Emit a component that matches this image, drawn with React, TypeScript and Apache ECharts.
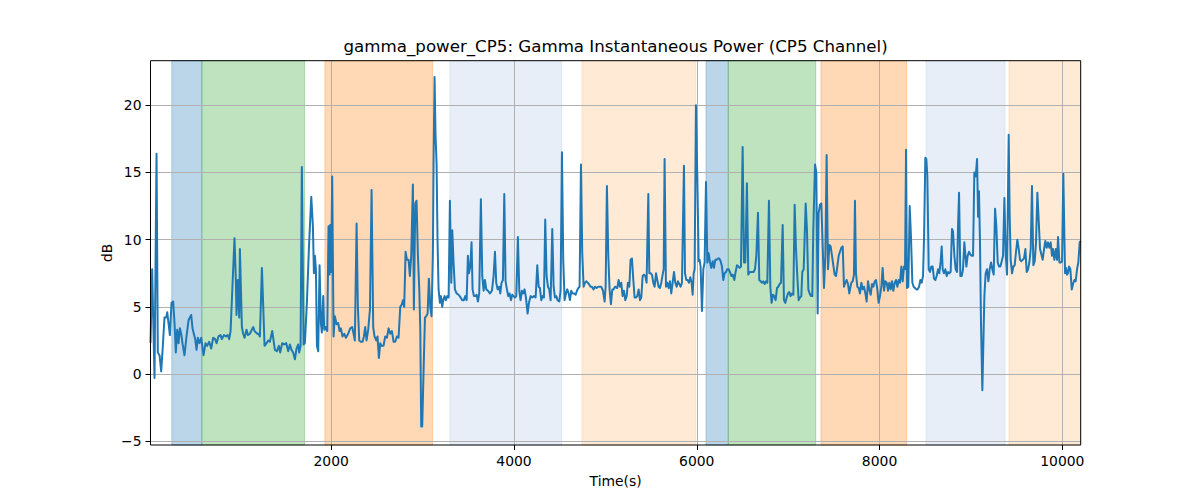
import React, { useEffect, useRef } from "react";
import * as echarts from "echarts";

const TITLE = "gamma_power_CP5: Gamma Instantaneous Power (CP5 Channel)";
const X_LABEL = "Time(s)";
const Y_LABEL = "dB";

const xTicks = [2000, 4000, 6000, 8000, 10000];
const yTicks = [-5, 0, 5, 10, 15, 20];

const times = [
  23, 41, 67, 89, 103, 122, 140, 158, 176, 195, 206, 220, 235, 253, 271, 286, 300, 315, 330, 344, 359, 373, 395, 417, 439, 468, 483, 497, 512, 527, 541, 559, 578, 603, 625, 643, 665, 687, 709, 731, 746, 767, 789, 804, 826, 848, 870, 884, 899, 942, 957, 964, 979, 994, 1001, 1023, 1037, 1052, 1074, 1088, 1110, 1132, 1147, 1161, 1191, 1205, 1220, 1242, 1271,
  1293, 1311, 1329, 1355, 1384, 1406, 1428, 1442, 1464, 1486, 1508, 1530, 1548, 1566, 1584, 1603, 1621, 1639, 1650, 1665, 1679, 1698, 1712, 1734, 1756, 1782, 1800, 1811, 1822, 1833, 1844, 1858, 1873, 1887, 1898, 1913, 1924, 1938, 1957, 1971, 1982, 1989, 2000, 2011, 2026, 2040, 2059, 2077, 2092, 2106, 2124, 2143, 2161, 2186, 2208, 2230, 2245, 2259, 2278, 2292, 2307, 2325, 2343, 2358, 2372, 2387, 2405, 2424, 2442, 2460, 2474, 2493, 2507, 2522, 2537, 2551,
  2573, 2591, 2610, 2628, 2646, 2664, 2683, 2701, 2719, 2737, 2756, 2774, 2785, 2799, 2814, 2829, 2847, 2861, 2876, 2894, 2905, 2920, 2934, 2949, 2964, 2975, 2985, 2996, 3011, 3026, 3040, 3055, 3069, 3084, 3098, 3113, 3120, 3131, 3142, 3153, 3164, 3175, 3190, 3201, 3215, 3226, 3241, 3255, 3270, 3285, 3299, 3314, 3325, 3339, 3354, 3372, 3394, 3416, 3434, 3452, 3467, 3482, 3496, 3507, 3522, 3536, 3547, 3562, 3576, 3591, 3606, 3620, 3638, 3653, 3668, 3682, 3697, 3715, 3737, 3759, 3777, 3792, 3806, 3821, 3839,
  3850, 3864, 3879, 3894, 3908, 3923, 3937, 3952, 3967, 3981, 3996, 4010, 4025, 4043, 4058, 4072, 4087, 4102, 4116, 4131, 4149, 4164, 4182, 4200, 4218, 4237, 4255, 4270, 4284, 4299, 4313, 4328, 4342, 4357, 4372, 4386, 4401, 4419, 4434, 4448, 4463, 4477, 4496, 4510, 4525, 4539, 4554, 4569, 4583, 4598, 4612, 4627, 4641, 4660, 4675, 4689, 4704, 4718, 4733, 4747, 4762, 4777, 4791, 4806, 4820, 4838, 4853, 4871, 4886, 4904, 4922, 4941, 4955, 4974, 4992, 5003, 5017, 5032, 5046, 5061, 5076, 5090, 5105,
  5130, 5145, 5160, 5174, 5189, 5203, 5218, 5233, 5247, 5262, 5276, 5291, 5306, 5320, 5335, 5349, 5364, 5379, 5393, 5408, 5422, 5437, 5451, 5470, 5481, 5495, 5510, 5524, 5539, 5554, 5568, 5583, 5597, 5612, 5627, 5638, 5648, 5663, 5678, 5692, 5707, 5721, 5736, 5751, 5765, 5780, 5794, 5809, 5824, 5838, 5860, 5871, 5886, 5900, 5915, 5929, 5944, 5955, 5966, 5977, 5991, 6006, 6021, 6031, 6042, 6057, 6072, 6086, 6101, 6116, 6130, 6145, 6159, 6174, 6188, 6203, 6218, 6232, 6247, 6261, 6276, 6290, 6305, 6320, 6334, 6349, 6363, 6378, 6393,
  6411, 6425, 6440, 6455, 6469, 6484, 6502, 6517, 6531, 6549, 6564, 6579, 6593, 6608, 6622, 6637, 6652, 6670, 6684, 6699, 6714, 6728, 6743, 6757, 6772, 6790, 6805, 6819, 6834, 6849, 6863, 6878, 6892, 6907, 6922, 6940, 6954, 6969, 6984, 6998, 7013, 7027, 7042, 7057, 7071, 7086, 7100, 7115, 7130, 7144, 7155, 7170, 7192, 7206, 7221, 7235, 7250, 7264, 7275, 7294, 7308, 7323, 7334, 7348, 7363, 7378, 7392, 7407, 7421, 7436, 7451, 7465, 7480, 7494, 7509, 7524, 7538, 7553, 7567, 7582, 7597, 7611, 7626, 7640, 7655, 7669,
  7691, 7706, 7720, 7731, 7742, 7757, 7772, 7786, 7801, 7815, 7830, 7845, 7859, 7874, 7888, 7903, 7917, 7932, 7947, 7961, 7976, 7990, 8005, 8020, 8034, 8049, 8063, 8078, 8093, 8107, 8122, 8136, 8151, 8166, 8180, 8195, 8209, 8224, 8239, 8253, 8268, 8279, 8290, 8300, 8315, 8330, 8344, 8359, 8373, 8388, 8403, 8417, 8432, 8447, 8461, 8476, 8487, 8501, 8512, 8523, 8538, 8552, 8567, 8581, 8596, 8611, 8625, 8640, 8654, 8669, 8680, 8691, 8705, 8720, 8735, 8749, 8764, 8778, 8793, 8804, 8819, 8833, 8848, 8859, 8870, 8884, 8899, 8913, 8928,
  8950, 8964, 8979, 8994, 9008, 9023, 9037, 9052, 9067, 9078, 9088, 9099, 9110, 9125, 9136, 9147, 9161, 9176, 9191, 9205, 9220, 9234, 9249, 9264, 9278, 9293, 9307, 9322, 9337, 9351, 9366, 9380, 9395, 9402, 9413, 9424, 9435, 9450, 9464, 9479, 9493, 9508, 9523, 9537, 9552, 9566, 9581, 9596, 9610, 9625, 9639, 9654, 9668, 9683, 9698, 9712, 9727, 9741, 9756, 9771, 9785, 9800, 9814, 9829, 9843, 9858, 9873, 9887, 9898, 9913, 9928, 9942, 9953, 9968, 9982, 9997, 10011, 10022, 10030, 10041, 10051, 10062, 10073, 10088, 10103, 10117, 10132, 10146, 10161, 10175, 10190, 10200,
];

const powers = [
  2.3, 7.8, -0.3, 16.4, 1.6, 1.4, 0.2, 2.1, 4.2, 4.2, 4.6, 3.8, 2.9, 5.3, 5.4, 3.8, 1.6, 3.3, 2.3, 3.4, 3.0, 2.3, 1.4, 2.8, 4.0, 4.4, 3.4, 3.0, 2.6, 1.8, 2.7, 2.3, 2.7, 1.4, 2.3, 2.1, 2.4, 1.9, 2.7, 2.6, 2.3, 2.8, 2.9, 2.6, 2.9, 2.8, 2.9, 2.6, 3.2, 10.1, 7.0, 4.4, 7.0, 4.2, 9.3, 3.5, 3.0, 2.7, 3.3, 2.9, 3.0, 3.3, 3.5, 3.2, 3.0, 3.0, 2.8, 7.9, 2.1,
  2.3, 2.5, 2.4, 3.2, 1.8, 1.7, 2.1, 1.6, 2.3, 2.2, 2.3, 1.7, 2.2, 1.8, 1.6, 1.1, 1.9, 2.2, 1.6, 2.1, 15.4, 2.2, 2.3, 5.3, 9.3, 13.2, 11.0, 7.5, 8.8, 7.8, 2.1, 1.7, 8.1, 3.8, 3.1, 5.8, 3.3, 3.5, 3.2, 11.0, 7.4, 11.1, 7.6, 14.7, 2.8, 4.3, 3.7, 3.8, 3.2, 3.4, 2.8, 3.0, 2.7, 3.0, 3.4, 3.5, 3.0, 2.5, 11.2, 5.0, 2.5, 2.4, 2.4, 2.8, 3.5, 2.5, 3.3, 4.8, 13.7, 3.5, 2.8, 2.5, 2.8, 1.2, 2.3, 2.1,
  2.1, 2.8, 2.7, 3.4, 3.0, 3.2, 2.4, 2.4, 2.8, 2.7, 5.0, 5.2, 5.5, 5.0, 9.1, 8.5, 8.5, 7.3, 8.8, 14.1, 4.8, 12.7, 12.9, 8.8, 6.3, 3.3, -3.9, -3.9, 0.3, 4.2, 4.3, 4.5, 7.1, 5.0, 4.3, 9.0, 15.6, 22.1, 17.7, 15.7, 9.8, 6.3, 5.3, 5.8, 5.0, 5.5, 5.8, 5.5, 5.8, 5.7, 12.9, 6.8, 10.7, 8.3, 6.3, 6.0, 5.9, 5.7, 5.5, 5.5, 5.8, 5.5, 8.8, 7.5, 8.0, 9.8, 6.3, 5.8, 5.8, 5.9, 5.4, 6.0, 13.0, 7.3, 6.2, 7.0, 6.3, 6.2, 6.0, 6.2, 7.3, 9.1, 6.8, 6.3, 6.5,
  6.0, 6.8, 7.0, 13.4, 6.9, 6.3, 5.8, 6.0, 5.5, 5.9, 5.8, 5.7, 5.8, 10.2, 6.2, 5.5, 6.2, 6.0, 6.3, 5.7, 4.5, 5.3, 5.8, 5.7, 5.8, 5.7, 8.1, 6.5, 6.4, 5.5, 5.8, 5.7, 11.5, 7.3, 6.5, 6.3, 5.5, 10.8, 6.5, 5.7, 5.8, 5.5, 5.4, 6.2, 16.5, 8.5, 5.5, 6.0, 6.3, 6.0, 5.5, 6.2, 6.0, 6.0, 5.9, 6.2, 6.4, 6.5, 15.6, 9.0, 6.5, 6.8, 6.9, 6.8, 6.7, 6.5, 6.5, 6.3, 6.5, 6.4, 6.5, 6.5, 6.5, 6.2, 5.4, 6.5, 14.0, 8.8, 6.3, 5.2, 6.3, 6.3, 6.5,
  6.4, 7.0, 6.5, 6.8, 5.8, 6.2, 5.5, 5.8, 6.8, 6.5, 8.5, 8.6, 7.0, 5.7, 5.7, 5.8, 6.3, 5.5, 5.7, 7.3, 7.4, 7.3, 6.8, 13.4, 7.5, 7.5, 7.4, 6.8, 6.5, 7.5, 7.0, 6.5, 6.4, 6.8, 7.4, 7.8, 16.0, 6.5, 6.8, 6.4, 6.9, 6.0, 6.8, 7.6, 6.8, 6.5, 6.9, 6.7, 6.5, 6.8, 15.5, 7.5, 7.0, 7.0, 6.8, 7.2, 6.8, 5.9, 7.5, 7.8, 20.0, 14.7, 8.4, 8.5, 8.0, 4.7, 7.8, 8.3, 14.3, 8.3, 9.0, 8.3, 7.9, 8.4, 7.9, 8.5, 8.5, 8.6, 8.6, 8.4, 8.0, 7.0, 7.5, 7.6, 7.8, 7.8, 7.6, 7.3, 7.4,
  7.0, 7.6, 8.1, 8.0, 7.9, 8.0, 16.9, 8.3, 8.3, 14.2, 7.4, 7.6, 7.6, 7.6, 7.6, 7.8, 8.8, 12.0, 7.0, 6.9, 6.8, 6.9, 6.7, 6.9, 6.8, 12.9, 6.5, 5.3, 5.9, 5.8, 5.5, 6.4, 6.5, 6.7, 6.8, 11.1, 5.5, 5.3, 5.7, 6.0, 6.1, 5.8, 6.0, 5.9, 12.6, 9.3, 7.3, 5.5, 5.7, 5.8, 7.6, 7.8, 12.7, 10.7, 6.3, 6.0, 5.8, 5.8, 10.7, 15.6, 15.0, 4.5, 12.0, 12.6, 12.7, 9.5, 6.4, 8.8, 16.3, 7.8, 9.6, 9.5, 8.8, 8.1, 7.4, 7.3, 8.0, 8.8, 9.1, 9.4, 9.5, 6.5, 6.8, 7.0, 6.7, 6.0,
  6.8, 6.9, 7.4, 12.9, 7.5, 6.5, 6.4, 6.0, 6.8, 6.3, 6.5, 6.0, 5.4, 6.9, 6.3, 5.9, 6.7, 6.5, 6.9, 7.0, 6.3, 5.3, 5.8, 6.5, 7.9, 6.2, 6.9, 6.8, 6.2, 6.8, 6.3, 6.9, 6.2, 6.8, 7.0, 6.5, 7.0, 6.8, 8.0, 6.9, 8.0, 7.8, 16.7, 6.4, 6.5, 12.5, 10.2, 6.8, 6.5, 6.4, 6.3, 6.3, 6.5, 7.0, 6.8, 7.3, 10.2, 16.1, 16.0, 14.7, 7.8, 7.6, 8.0, 8.0, 7.1, 7.0, 7.3, 7.8, 7.5, 8.4, 9.5, 7.8, 7.5, 7.8, 7.3, 7.6, 7.5, 7.6, 10.8, 10.6, 8.8, 7.8, 7.6, 11.0, 13.5, 7.3, 7.3, 7.8, 9.8,
  8.0, 8.8, 9.1, 8.9, 8.8, 8.8, 15.0, 14.7, 16.0, 11.7, 13.6, 9.8, 3.8, -1.2, 2.3, 5.8, 7.5, 7.8, 6.9, 7.8, 8.3, 7.8, 7.4, 12.3, 11.0, 8.3, 8.0, 8.0, 8.4, 8.8, 13.1, 8.9, 7.4, 7.4, 17.8, 11.7, 8.5, 7.5, 8.0, 8.1, 9.1, 10.0, 9.3, 8.5, 8.4, 8.5, 8.6, 9.3, 7.6, 7.8, 8.3, 9.3, 14.0, 8.1, 8.4, 9.8, 13.5, 11.5, 9.3, 8.9, 8.5, 9.3, 9.9, 9.4, 9.8, 9.4, 9.8, 8.8, 9.3, 8.5, 9.3, 8.5, 10.2, 8.3, 8.3, 8.4, 14.9, 10.4, 7.5, 7.9, 7.4, 7.5, 8.0, 7.8, 6.3, 6.7, 7.0, 6.9, 7.8, 8.3, 9.8, 9.9,
];

// shaded intervals [start, end] and their colour key
const spanStarts = [256, 585, 1931, 3299, 4743, 6101, 6345, 7359, 8508, 9416];
const spanEnds = [585, 1709, 3110, 4522, 5991, 6345, 7301, 8297, 9373, 10201];
const spanKinds = ["blue", "green", "orange", "lightblue", "lightorange", "blue", "green", "orange", "lightblue", "lightorange"];

const spanColors: Record<string, string> = {
  blue: "rgba(31,119,180,0.3)",
  green: "rgba(44,160,44,0.3)",
  orange: "rgba(255,127,14,0.3)",
  lightblue: "rgba(174,199,232,0.3)",
  lightorange: "rgba(255,187,120,0.3)",
};

const X_MIN = 23;
const X_MAX = 10201;
const Y_MIN = -5.28;
const Y_MAX = 23.32;

export default function App() {
  const ref = useRef<HTMLDivElement>(null);

  useEffect(() => {
    document.body.style.margin = "0";
    if (!ref.current) return;
    const chart = echarts.init(ref.current, undefined, { renderer: "svg" });
    const font = "DejaVu Sans";
    const lineData = times.map((t, i) => [t, powers[i]]);
    const areaData = spanStarts.map((s, i) => {
      const c = spanColors[spanKinds[i]];
      return [
        { xAxis: s, itemStyle: { color: c, borderColor: c, borderWidth: 1 } },
        { xAxis: spanEnds[i] },
      ];
    });

    const gridLeft = 150.5;
    const gridTop = 60.7;
    const gridRight = 1200 - 1080.7;
    const gridBottom = 500 - 445;

    chart.setOption({
      animation: false,
      backgroundColor: "#ffffff",
      grid: {
        left: gridLeft,
        top: gridTop,
        right: gridRight,
        bottom: gridBottom,
        containLabel: false,
        outerBoundsMode: "none",
        show: true,
        borderColor: "#000000",
        borderWidth: 1,
        backgroundColor: "transparent",
        z: 10,
      },
      xAxis: {
        type: "value",
        min: X_MIN,
        max: X_MAX,
        z: 1,
        axisLine: { show: false, onZero: false },
        axisTick: {
          show: true,
          customValues: xTicks,
          length: 5,
          lineStyle: { color: "#000", width: 1 },
        },
        axisLabel: {
          customValues: xTicks,
          color: "#000",
          fontSize: 13.9,
          fontFamily: font,
          margin: 9,
          formatter: (v: number) => String(v),
        },
        splitLine: { show: true, lineStyle: { color: "#b0b0b0", width: 1 } },
      },
      yAxis: {
        type: "value",
        min: Y_MIN,
        max: Y_MAX,
        z: 1,
        axisLine: { show: false, onZero: false },
        axisTick: {
          show: true,
          customValues: yTicks,
          length: 5,
          lineStyle: { color: "#000", width: 1 },
        },
        axisLabel: {
          customValues: yTicks,
          color: "#000",
          fontSize: 13.9,
          fontFamily: font,
          margin: 9,
          formatter: (v: number) => String(v).replace("-", "\u2212"),
        },
        splitLine: { show: true, lineStyle: { color: "#b0b0b0", width: 1 } },
      },
      series: [
        {
          type: "line",
          data: [],
          z: 0,
          silent: true,
          markArea: { silent: true, z: 0, data: areaData },
        },
        {
          type: "line",
          data: lineData,
          z: 3,
          showSymbol: false,
          symbol: "none",
          smooth: false,
          lineStyle: { color: "#1f77b4", width: 2, join: "round" },
          itemStyle: { color: "#1f77b4" },
        },
      ],
      graphic: [
        {
          type: "text",
          x: 615.6,
          y: 46,
          style: {
            text: TITLE,
            fill: "#000",
            font: `16.67px "${font}"`,
            textAlign: "center",
            textVerticalAlign: "middle",
          },
        },
        {
          type: "text",
          x: 615.6,
          y: 481,
          style: {
            text: X_LABEL,
            fill: "#000",
            font: `13.9px "${font}"`,
            textAlign: "center",
            textVerticalAlign: "middle",
          },
        },
        {
          type: "text",
          x: 107,
          y: 252.8,
          rotation: Math.PI / 2,
          style: {
            text: Y_LABEL,
            fill: "#000",
            font: `13.9px "${font}"`,
            textAlign: "center",
            textVerticalAlign: "middle",
          },
        },
      ],
    });

    return () => chart.dispose();
  }, []);

  return <div ref={ref} style={{ width: 1200, height: 500 }} />;
}
